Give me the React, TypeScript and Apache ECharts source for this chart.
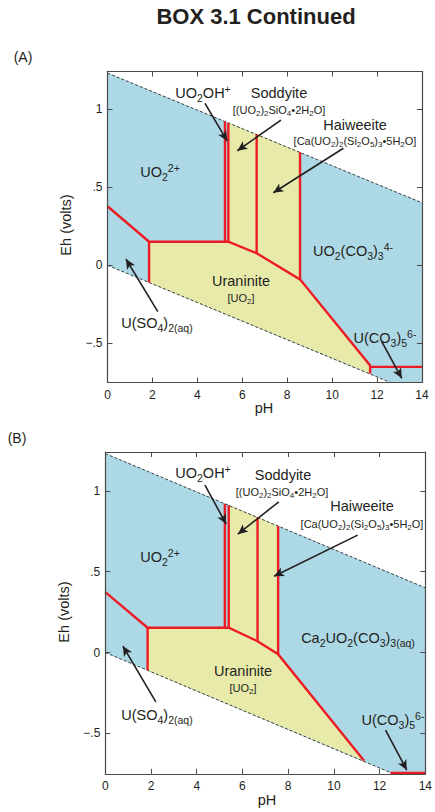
import React, { useEffect, useRef } from "react";
import * as echarts from "echarts";

// ---------- data (pH, Eh in volts) ----------
const xTicks = [0, 2, 4, 6, 8, 10, 12, 14];
const yTickValues = [-0.5, 0, 0.5, 1];
const yTickLabels = ["\u2212.5", "0", ".5", "1"];

const waterUpper = [[0, 1.23], [14, 0.40]];
const waterLower = [[0, 0], [12.6, -0.75]];

// Panel A
const blueA = [[0, 1.23], [14, 0.40], [14, -0.75], [12.6, -0.75], [0, 0]];
const yellowA = [[1.85, -0.11], [1.85, 0.151], [5.38, 0.151], [5.38, 0.911], [8.57, 0.723], [8.57, -0.09], [11.69, -0.641], [11.69, -0.692]];
const redA = [
  [[0, 0.378], [1.85, 0.151], [5.23, 0.151], [5.38, 0.151], [6.64, 0.077], [8.57, -0.09], [11.69, -0.641], [11.69, -0.692]],
  [[1.85, 0.151], [1.85, -0.11]],
  [[5.23, 0.151], [5.23, 0.92]],
  [[5.38, 0.151], [5.38, 0.911]],
  [[6.64, 0.077], [6.64, 0.837]],
  [[8.57, -0.09], [8.57, 0.723]],
  [[11.69, -0.65], [14, -0.65]],
];
const arrowsA = [
  [[4.34, 1.036], [5.33, 0.795]],
  [[7.72, 0.929], [5.78, 0.733]],
  [[10.5, 0.749], [7.38, 0.464]],
  [[2.24, -0.297], [0.82, 0.04]],
  [[12.21, -0.489], [13.1, -0.723]],
];

// Panel B
const blueB = [[0, 1.23], [14, 0.40], [14, -0.75], [12.6, -0.75], [0, 0]];
const yellowB = [[1.85, -0.11], [1.85, 0.153], [5.4, 0.153], [5.4, 0.91], [7.56, 0.782], [7.56, -0.01], [11.32, -0.67]];
const redB = [
  [[0, 0.373], [1.85, 0.153], [5.23, 0.153], [5.4, 0.153], [6.66, 0.07], [7.56, -0.01], [11.32, -0.67]],
  [[1.85, 0.153], [1.85, -0.11]],
  [[5.23, 0.153], [5.23, 0.92]],
  [[5.4, 0.153], [5.4, 0.91]],
  [[6.66, 0.07], [6.66, 0.836]],
  [[7.56, -0.01], [7.56, 0.782]],
  [[12.47, -0.745], [14, -0.745]],
];
const arrowsB = [
  [[4.36, 1.035], [5.29, 0.794]],
  [[7.59, 0.932], [5.8, 0.732]],
  [[11.04, 0.726], [7.38, 0.472]],
  [[2.21, -0.305], [0.77, 0.04]],
  [[12.26, -0.48], [13.19, -0.727]],
];

// ---------- styling ----------
const FONT = "'Liberation Sans', Arial, Helvetica, sans-serif";
const INK = "#231F20";
const BLUE = "#ADD8E6";
const YELLOW = "#E8EAAA";
const RED = "#ED1C24";
const AXIS = "#4a4a4a";

const rich = {
  n: { fontSize: 14.5, lineHeight: 20, verticalAlign: "middle", fill: INK, fontFamily: FONT },
  b: { fontSize: 10.5, verticalAlign: "bottom", fill: INK, fontFamily: FONT },
  p: { fontSize: 10.5, verticalAlign: "top", fill: INK, fontFamily: FONT },
  m: { fontSize: 11, lineHeight: 15, verticalAlign: "middle", fill: INK, fontFamily: FONT },
  c: { fontSize: 8, verticalAlign: "bottom", fill: INK, fontFamily: FONT },
};

const T = {
  uo2oh: "{n|UO}{b|2}{n|OH}{p|+}",
  sod: "{n|Soddyite}",
  sodF: "{m|[(UO}{c|2}{m|)}{c|2}{m|SiO}{c|4}{m|\u20222H}{c|2}{m|O]}",
  hai: "{n|Haiweeite}",
  haiF: "{m|[Ca(UO}{c|2}{m|)}{c|2}{m|(Si}{c|2}{m|O}{c|5}{m|)}{c|3}{m|\u20225H}{c|2}{m|O]}",
  uo2: "{n|UO}{b|2}{p|2+}",
  uo2co3: "{n|UO}{b|2}{n|(CO}{b|3}{n|)}{b|3}{p|4-}",
  ca2: "{n|Ca}{b|2}{n|UO}{b|2}{n|(CO}{b|3}{n|)}{b|3(aq)}",
  ura: "{n|Uraninite}",
  uraF: "{m|[UO}{c|2}{m|]}",
  uso4: "{n|U(SO}{b|4}{n|)}{b|2(aq)}",
  uco3: "{n|U(CO}{b|3}{n|)}{b|5}{p|6-}",
};

function txt(text: string, x: number, y: number, extra: any = {}, el: any = {}) {
  return {
    type: "text",
    x,
    y,
    silent: true,
    z: 100,
    ...el,
    style: {
      text,
      fill: INK,
      fontFamily: FONT,
      fontSize: 14.5,
      align: "center",
      verticalAlign: "middle",
      rich,
      ...extra,
    },
  };
}

function polySeries(xi: number, pts: number[][], color: string) {
  return {
    type: "custom",
    xAxisIndex: xi,
    yAxisIndex: xi,
    silent: true,
    z: 1,
    data: [pts[0]],
    renderItem: (_p: any, api: any) => ({
      type: "polygon",
      shape: { points: pts.map((p) => api.coord(p)) },
      style: { fill: color, stroke: color, lineWidth: 0.3 },
    }),
  };
}

function lineSeries(xi: number, pts: number[][], style: any, z: number, extra: any = {}) {
  return {
    type: "line",
    xAxisIndex: xi,
    yAxisIndex: xi,
    data: pts,
    symbol: "none",
    showSymbol: false,
    silent: true,
    z,
    lineStyle: style,
    ...extra,
  };
}

function arrowMark(arrows: number[][][]) {
  return {
    markLine: {
      silent: true,
      symbol: ["none", "arrow"],
      symbolSize: [7, 10],
      label: { show: false },
      lineStyle: { color: INK, width: 1.6, type: "solid" },
      emphasis: { disabled: true },
      data: arrows.map((a) => [{ coord: a[0] }, { coord: a[1] }]),
    },
  };
}

function panelSeries(xi: number, blue: number[][], yellow: number[][], reds: number[][][], arrows: number[][][]) {
  const dashed = { color: "#111", width: 0.8, type: [3, 2] };
  return [
    polySeries(xi, blue, BLUE),
    polySeries(xi, yellow, YELLOW),
    lineSeries(xi, waterUpper, dashed, 2, arrowMark(arrows)),
    lineSeries(xi, waterLower, dashed, 2),
    ...reds.map((r) => lineSeries(xi, r, { color: RED, width: 2.4, cap: "butt", join: "miter" }, 3)),
  ];
}

const axisLineStyle = { show: true, onZero: false, lineStyle: { color: AXIS, width: 1.2 } };
const tickStyle = { show: true, inside: true, length: 5, lineStyle: { color: AXIS, width: 1 } };
const labelStyle = { color: INK, fontSize: 12, fontFamily: FONT, margin: 5 };

function xAxes(gi: number) {
  const base = { type: "value", gridIndex: gi, min: 0, max: 14, interval: 2, z: 5, splitLine: { show: false }, axisLine: axisLineStyle, axisTick: tickStyle };
  return [
    { ...base, position: "bottom", axisLabel: { ...labelStyle, margin: 6 } },
    { ...base, position: "top", axisLabel: { show: false } },
  ];
}
function yAxes(gi: number) {
  const base = {
    type: "value",
    gridIndex: gi,
    min: -0.75,
    max: 1.24,
    z: 5,
    splitLine: { show: false },
    axisLine: axisLineStyle,
    axisTick: { ...tickStyle, customValues: yTickValues },
  };
  return [
    {
      ...base,
      position: "left",
      axisLabel: {
        ...labelStyle,
        customValues: yTickValues,
        formatter: (v: number) => yTickLabels[yTickValues.indexOf(v)] ?? "",
      },
    },
    { ...base, position: "right", axisLabel: { show: false } },
  ];
}

export default function App() {
  const ref = useRef<HTMLDivElement>(null);
  useEffect(() => {
    if (!ref.current) return;
    const chart = echarts.init(ref.current, undefined, { renderer: "svg" });
    const xa = [...xAxes(0), ...xAxes(1)];
    const ya = [...yAxes(0), ...yAxes(1)];
    // series reference axis index 0 (A) and 2 (B)
    const sA = panelSeries(0, blueA, yellowA, redA, arrowsA);
    const sB = panelSeries(2, blueB, yellowB, redB, arrowsB);
    chart.setOption({
      animation: false,
      backgroundColor: "#fff",
      grid: [
        { left: 107.5, right: 13, top: 71.5, height: 311 },
        { left: 105.3, right: 4.5, top: 452, height: 321.8 },
      ],
      xAxis: xa,
      yAxis: ya,
      series: [...sA, ...sB],
      graphic: [
        txt("BOX 3.1 Continued", 256, 16, { fontSize: 22, fontWeight: "bold", rich: undefined }),
        txt("(A)", 23, 57, { fontSize: 14, rich: undefined }),
        txt("(B)", 17, 438, { fontSize: 14, rich: undefined }),
        // panel A labels
        txt(T.uo2oh, 203, 93),
        txt(T.sod, 279, 93),
        txt(T.sodF, 279, 110),
        txt(T.hai, 355, 125),
        txt(T.haiF, 355, 141),
        txt(T.uo2, 160, 172),
        txt(T.uo2co3, 353, 251),
        txt(T.ura, 241, 281),
        txt(T.uraF, 241, 298),
        txt(T.uso4, 157, 323),
        txt(T.uco3, 385, 338),
        txt("Eh (volts)", 66, 225, { rich: undefined }, { rotation: Math.PI / 2 }),
        txt("pH", 264, 408, { rich: undefined }),
        // panel B labels
        txt(T.uo2oh, 203, 473),
        txt(T.sod, 283, 475),
        txt(T.sodF, 282, 492),
        txt(T.hai, 362, 506),
        txt(T.haiF, 362, 524),
        txt(T.uo2, 160, 557),
        txt(T.ca2, 358, 638),
        txt(T.ura, 243, 671),
        txt(T.uraF, 243, 688),
        txt(T.uso4, 157, 715),
        txt(T.uco3, 393, 720),
        txt("Eh (volts)", 64, 612, { rich: undefined }, { rotation: Math.PI / 2 }),
        txt("pH", 267, 800, { rich: undefined }),
      ],
    });
    return () => chart.dispose();
  }, []);
  return (
    <div
      ref={ref}
      style={{ position: "fixed", left: 0, top: 0, width: 435, height: 812, background: "#fff" }}
    />
  );
}
